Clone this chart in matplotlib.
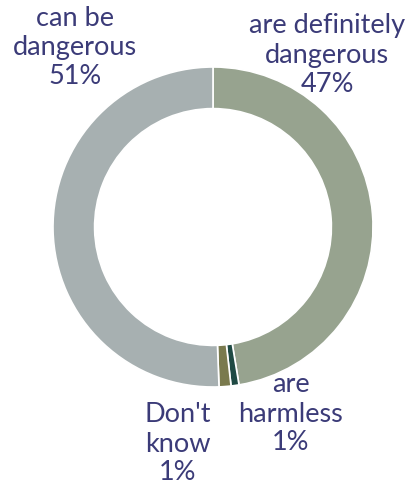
import matplotlib
matplotlib.use("Agg")
import matplotlib.pyplot as plt

# Survey answers, clockwise from the top
categories = ["are definitely\ndangerous", "are\nharmless", "Don't\nknow", "can be\ndangerous"]
shares = [47.4, 0.8, 1.2, 50.6]
colors = ["#97a38f", "#1f4a44", "#7a7a4e", "#a7b0b1"]

W, H = 412, 488
fig = plt.figure(figsize=(W / 100, H / 100), dpi=100)
fig.patch.set_facecolor("white")

# Donut centred at (213, 227) px with an outer radius of 160 px
cx, cy, r = 213, 227, 160
ax = fig.add_axes([(cx - r) / W, (H - cy - r) / H, 2 * r / W, 2 * r / H])
ax.pie(shares, colors=colors, startangle=90, counterclock=False,
       wedgeprops=dict(width=0.26, edgecolor="white", linewidth=1.2))
ax.set_xlim(-1, 1)
ax.set_ylim(-1, 1)
ax.set_aspect("equal")
ax.axis("off")

text_color = "#3b3b78"
font = dict(family=["Lato", "DejaVu Sans"], fontweight="normal", fontsize=19.5,
            color=text_color, ha="center", va="center", linespacing=1.2)

# label anchor points in pixels (centre of the text block)
label_pos = {
    "are definitely\ndangerous": (327, 55),
    "are\nharmless": (291, 414),
    "Don't\nknow": (178, 444),
    "can be\ndangerous": (75, 47),
}
for cat, val in zip(categories, shares):
    x, y = label_pos[cat]
    fig.text(x / W, 1 - y / H, f"{cat}\n{round(val)}%", **font)

fig.savefig("out.png", dpi=100)
